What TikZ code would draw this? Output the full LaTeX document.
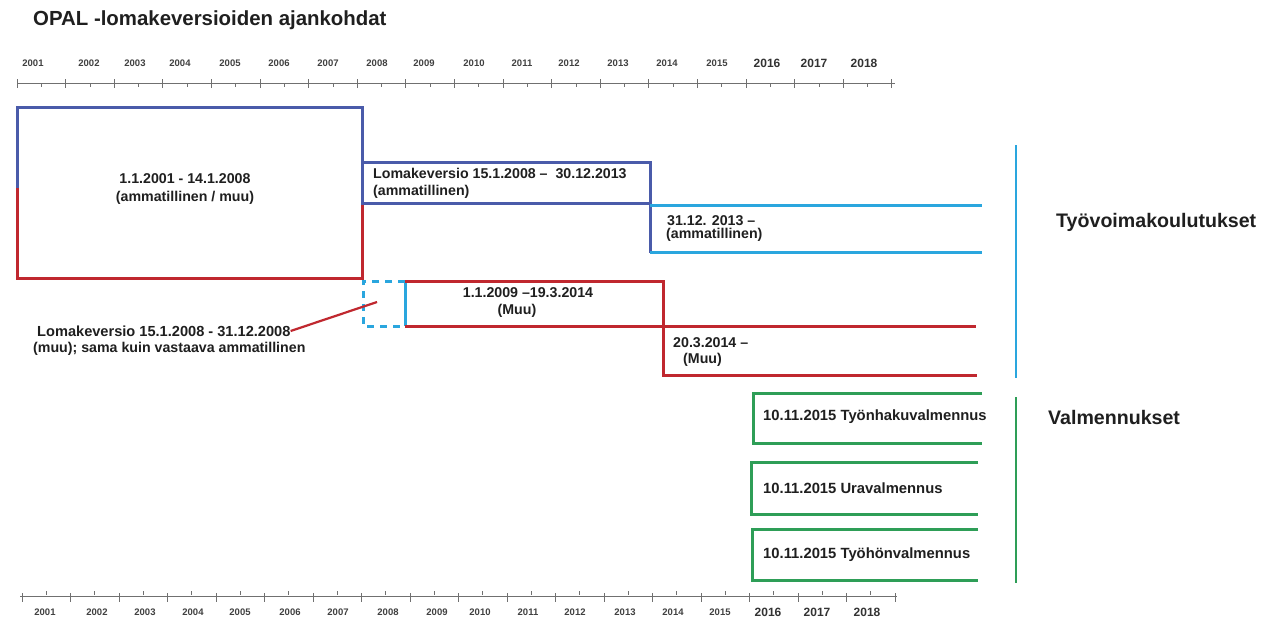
\documentclass[tikz,border=0pt]{standalone}
\usepackage{fontspec}
\setmainfont{Liberation Sans}
\definecolor{dkblue}{HTML}{4A5BAA}
\definecolor{rdc}{HTML}{C0282F}
\definecolor{ltblue}{HTML}{2AA6DE}
\definecolor{grn}{HTML}{2E9E57}
\definecolor{axc}{HTML}{707070}
\tikzset{
  lbl/.style={font=\bfseries\fontsize{14.2}{18}\selectfont, inner sep=0pt, text=black!88},
  glbl/.style={font=\bfseries\fontsize{14.8}{18}\selectfont, inner sep=0pt, text=black!88, anchor=west},
  biglbl/.style={font=\bfseries\fontsize{19.6}{22}\selectfont, inner sep=0pt, text=black!88, anchor=west},
  yr/.style={font=\bfseries\fontsize{9.5}{10}\selectfont, inner sep=0pt, text=black!75},
  yrbig/.style={font=\bfseries\fontsize{12}{12}\selectfont, inner sep=0pt, text=black!80},
  axisline/.style={draw=axc, line width=0.9pt},
  bl/.style={draw=dkblue, line width=3pt, line join=miter},
  rd/.style={draw=rdc, line width=3pt, line join=miter},
  lb/.style={draw=ltblue, line width=3pt},
  gr/.style={draw=grn, line width=3pt},
}
\begin{document}
\begin{tikzpicture}[x=1pt,y=-1pt]
\useasboundingbox[fill=white] (0,0) rectangle (1263,618);

% title
\node[anchor=west, inner sep=0pt, font=\bfseries\fontsize{20.4}{22}\selectfont, text=black!88] (title) at (33,20) {OPAL -lomakeversioiden ajankohdat};

% top axis
\coordinate (tl) at (17,83);
\coordinate (tr) at (895,83);
\draw[axisline] (tl) -- (tr);
\foreach \k in {0,...,18} {
  \draw[axisline] ({17+48.6*\k},79) -- ({17+48.6*\k},88);
}
\foreach \k in {0,...,17} {
  \draw[axisline, line width=0.6pt] ({41.3+48.6*\k},84) -- ({41.3+48.6*\k},87);
}
\foreach \x/\y in {33/2001,89/2002,135/2003,180/2004,230/2005,279/2006,328/2007,377/2008,424/2009,474/2010,522/2011,569/2012,618/2013,667/2014,717/2015} {
  \node[yr] (ty\y) at (\x,63) {\y};
}
\foreach \x/\y in {767/2016,814/2017,864/2018} {
  \node[yrbig] (ty\y) at (\x,63) {\y};
}

% bottom axis
\coordinate (bl) at (20,596);
\coordinate (br) at (897,596);
\draw[axisline] (bl) -- (br);
\foreach \k in {0,...,18} {
  \draw[axisline] ({22+48.5*\k},593) -- ({22+48.5*\k},602);
}
\foreach \k in {0,...,17} {
  \draw[axisline, line width=0.6pt] ({46.2+48.5*\k},591) -- ({46.2+48.5*\k},595);
}
\foreach \x/\y in {45/2001,97/2002,145/2003,193/2004,240/2005,290/2006,338/2007,388/2008,437/2009,480/2010,528/2011,575/2012,625/2013,673/2014,720/2015} {
  \node[yr] (by\y) at (\x,612) {\y};
}
\foreach \x/\y in {768/2016,817/2017,867/2018} {
  \node[yrbig] (by\y) at (\x,612) {\y};
}

% big first box
\draw[bl] (17,188) -- (17,107) -- (362,107) -- (362,205);
\draw[rd] (17,188) -- (17,278) -- (362,278) -- (362,205);
\node[lbl, align=center] (t1) at (185,189) {1.1.2001 - 14.1.2008\\(ammatillinen / muu)};

% Lomakeversio ammatillinen
\draw[bl] (362,162) -- (650,162) -- (650,253);
\draw[bl] (362,203) -- (650,203);
\node[lbl, anchor=west] (t2a) at (373,173) {Lomakeversio 15.1.2008 –\ \ 30.12.2013};
\node[lbl, anchor=west] (t2b) at (373,192) {(ammatillinen)};

% 31.12.2013 -
\draw[lb] (650,205) -- (982,205);
\draw[lb] (650,252) -- (982,252);
\node[lbl, anchor=west] (t3a) at (667,221) {31.12. 2013 –};
\node[lbl, anchor=west] (t3b) at (666,235) {(ammatillinen)};

% dashed muu 2008
\draw[lb, dashed, dash pattern=on 7pt off 6pt] (405,281) -- (363,281) -- (363,326) -- (405,326);
\draw[lb] (405,281) -- (405,326);

% 1.1.2009 - 19.3.2014 (Muu)
\draw[rd] (405,281) -- (663,281) -- (663,375) -- (977,375);
\draw[rd] (405,326) -- (976,326);
\node[lbl] (t4a) at (528,293) {1.1.2009 –19.3.2014};
\node[lbl] (t4b) at (517,311) {(Muu)};

% 20.3.2014 -
\node[lbl, anchor=west] (t5a) at (673,343) {20.3.2014 –};
\node[lbl, anchor=west] (t5b) at (683,360) {(Muu)};

% annotation
\node[lbl, anchor=west, font=\bfseries\fontsize{14.6}{18}\selectfont] (anno1) at (37,331) {Lomakeversio 15.1.2008 - 31.12.2008};
\node[lbl, anchor=west, font=\bfseries\fontsize{14.2}{18}\selectfont] (anno2) at (33,349) {(muu); sama kuin vastaava ammatillinen};
\coordinate (annoEnd) at (377,302);
\draw[draw=rdc, line width=2.2pt] (anno1.east) -- (annoEnd);

% green boxes
\draw[gr] (982,393) -- (753,393) -- (753,443) -- (982,443);
\node[glbl] (g1) at (763,417) {10.11.2015 Työnhakuvalmennus};
\draw[gr] (978,462) -- (751,462) -- (751,514) -- (978,514);
\node[glbl] (g2) at (763,488) {10.11.2015 Uravalmennus};
\draw[gr] (978,529) -- (752,529) -- (752,580) -- (978,580);
\node[glbl] (g3) at (763,555) {10.11.2015 Työhönvalmennus};

% right brackets and group labels
\coordinate (bt) at (1016,145);
\coordinate (bb) at (1016,378);
\draw[draw=ltblue, line width=2.4pt] (bt) -- (bb);
\coordinate (gt) at (1016,397);
\coordinate (gb) at (1016,583);
\draw[draw=grn, line width=2.4pt] (gt) -- (gb);
\node[biglbl] (tyo) at (1056,222) {Työvoimakoulutukset};
\node[biglbl] (val) at (1048,417) {Valmennukset};
\end{tikzpicture}
\end{document}
